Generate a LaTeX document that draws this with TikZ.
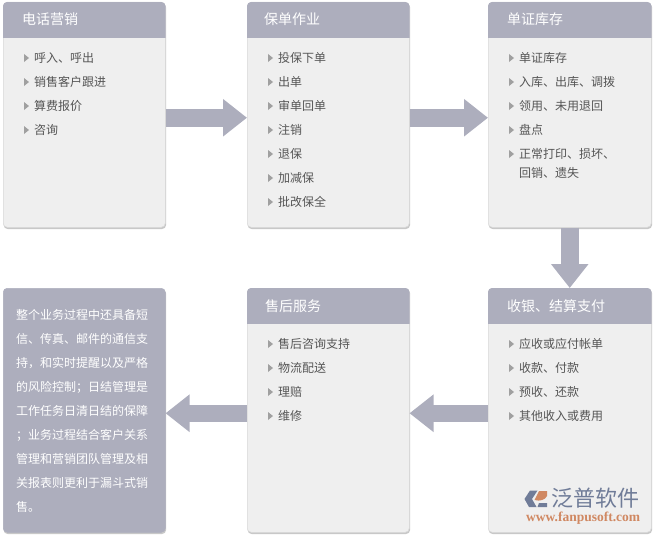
\documentclass[tikz,border=0pt]{standalone}
\usepackage{fontspec}
\setmainfont{Noto Sans CJK SC}
\newfontfamily\urlfont{Liberation Serif}
\usetikzlibrary{arrows.meta}
\pgfdeclarelayer{bg}
\pgfsetlayers{bg,main}
\definecolor{hdr}{RGB}{173,174,189}
\definecolor{bodyc}{RGB}{239,239,239}
\definecolor{edgec}{RGB}{218,218,218}
\definecolor{shadowc}{RGB}{200,200,200}
\definecolor{txt}{RGB}{85,85,85}
\definecolor{bul}{RGB}{160,160,160}
\definecolor{logoblue}{RGB}{112,124,152}
\definecolor{logoorange}{RGB}{208,136,98}
\newcommand\cardlist[3]{%
  \foreach \t [count=\i] in {#3} {%
    \node[item] (#2\i) at ([xshift=31pt,yshift={-56pt-24pt*(\i-1)}]#1.north west) {\t};
    \fill[bul] ([xshift=-10pt,yshift=4pt]#2\i.west) -- ++(5pt,-4pt) -- ++(-5pt,-4pt) -- cycle;
  }}
\begin{document}
\begin{tikzpicture}[x=1pt,y=-1pt,
  card/.style={draw=edgec, fill=bodyc, rounded corners=4pt, minimum width=162pt,
    minimum height=225pt, inner sep=0, anchor=north west, line width=0.5pt},
  htext/.style={font=\fontsize{14pt}{16pt}\selectfont, text=white, inner sep=0,
    anchor=west, text height=12pt, text depth=2pt},
  item/.style={font=\fontsize{12pt}{14pt}\selectfont, text=txt, inner sep=0,
    anchor=west, text height=10.5pt, text depth=1.5pt},
  ltext/.style={font=\fontsize{12pt}{14pt}\selectfont, text=white, inner sep=0,
    anchor=west, text height=10.5pt, text depth=1.5pt},
  arr/.style={draw=hdr, line width=17.5pt, -{Triangle[length=24pt,width=36pt]}}]
\useasboundingbox (0,0) rectangle (655,535);
% cards
\node[card] (b1) at (3,2) {};
\node[card] (b2) at (247,2) {};
\node[card, minimum width=163pt] (b3) at (488,2) {};
\node[card, fill=hdr, draw=hdr, minimum height=244pt] (b4) at (3,288) {};
\node[card, minimum height=244pt] (b5) at (247,288) {};
\node[card, minimum width=163pt, minimum height=244pt] (b6) at (488,288) {};
% shadows
\begin{pgfonlayer}{bg}
\foreach \b in {b1,b2,b3,b4,b5,b6}
  \fill[shadowc, rounded corners=4pt] ([shift={(0.6pt,-1.5pt)}]\b.north west) rectangle ([shift={(0.6pt,-1.5pt)}]\b.south east);
\end{pgfonlayer}
% headers
\foreach \b in {b1,b2,b3,b5,b6} {
  \begin{scope}
    \clip[rounded corners=4pt] (\b.north west) rectangle (\b.south east);
    \fill[hdr] (\b.north west) rectangle ([yshift=-36pt]\b.north east);
  \end{scope}
}
\node[htext] (h1) at ([xshift=19pt,yshift=-18pt]b1.north west) {电话营销};
\node[htext] (h2) at ([xshift=17pt,yshift=-18pt]b2.north west) {保单作业};
\node[htext] (h3) at ([xshift=19pt,yshift=-18pt]b3.north west) {单证库存};
\node[htext] (h5) at ([xshift=18pt,yshift=-18pt]b5.north west) {售后服务};
\node[htext] (h6) at ([xshift=19pt,yshift=-18pt]b6.north west) {收银、结算支付};
% items
\cardlist{b1}{a}{呼入、呼出,销售客户跟进,算费报价,咨询}
\cardlist{b2}{p}{投保下单,出单,审单回单,注销,退保,加减保,批改保全}
\cardlist{b3}{c}{单证库存,入库、出库、调拨,领用、未用退回,盘点,正常打印、损坏、}
\node[item] (c5b) at ([yshift=-19pt]c5.west) {回销、遗失};
\cardlist{b5}{s}{售后咨询支持,物流配送,理赔,维修}
\cardlist{b6}{m}{应收或应付帐单,收款、付款,预收、还款,其他收入或费用}
% left text
\foreach \t [count=\i] in {整个业务过程中还具备短,信、传真、邮件的通信支,持，和实时提醒以及严格,的风险控制；日结管理是,工作任务日清日结的保障,；业务过程结合客户关系,管理和营销团队管理及相,关报表则更利于漏斗式销,售。}
  \node[ltext] (l\i) at ([xshift=13pt,yshift={-27pt-24pt*(\i-1)}]b4.north west) {\t};
% arrows
\draw[arr] ([yshift=-3pt]b1.east) -- ([yshift=-3pt]b2.west);
\draw[arr] ([yshift=-3pt]b2.east) -- ([yshift=-3pt]b3.west);
\draw[arr] (b3.south) -- (b6.north);
\draw[arr] ([yshift=-3pt]b6.west) -- ([yshift=-3pt]b5.east);
\draw[arr] ([yshift=-3pt]b5.west) -- ([yshift=-3pt]b4.east);
% logo
\fill[logoblue] (530,490.5) -- (537.5,490.5) -- (532,499) -- (536.5,507) -- (529,507) -- (524.5,499) -- cycle;
\fill[logoorange] (534.5,500) -- (539,491) -- (547,491) -- (547,496) .. controls (545,500) and (540,501.5) .. (534.5,500) -- cycle;
\fill[logoblue] (539,503) -- (547,503) -- (547,507) -- (537.5,507) -- cycle;
\node[font=\fontsize{22pt}{23pt}\selectfont, text=logoblue, anchor=west, inner sep=0] (logo) at (551,498) {泛普软件};
\node[font=\urlfont\bfseries\fontsize{13.5pt}{14pt}\selectfont, text=logoorange, anchor=west, inner sep=0] (url) at (526,518.5) {www.fanpusoft.com};
\end{tikzpicture}
\end{document}
